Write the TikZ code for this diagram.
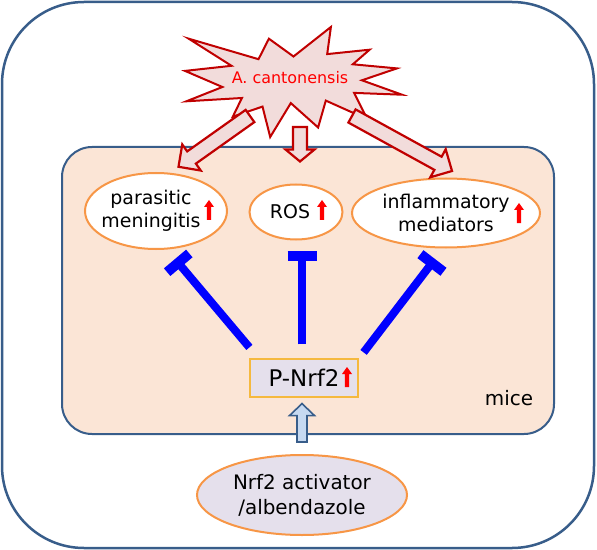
\documentclass[tikz,border=0pt]{standalone}
\usepackage{fontspec}
\setmainfont{DejaVu Sans}
\usepackage{tikz}
\usetikzlibrary{shapes.geometric,arrows.meta,positioning,calc}

\definecolor{frame}{HTML}{385D8A}
\definecolor{peach}{HTML}{FBE5D6}
\definecolor{orng}{HTML}{F79646}
\definecolor{lilac}{HTML}{E5E0EC}
\definecolor{gold}{HTML}{F5B93F}
\definecolor{darkred}{HTML}{C00000}
\definecolor{pinkfill}{HTML}{F2DCDB}
\definecolor{skyfill}{HTML}{C6D9F1}

% hollow block arrow: style, from, to, shaft half width, head half width, head length
\newcommand{\blockarrow}[6]{%
  \coordinate (ba-s) at (#2);
  \coordinate (ba-e) at (#3);
  \coordinate (ba-h) at ($(ba-e)!#6!(ba-s)$);
  \draw[#1] ($(ba-s)!#4!90:(ba-e)$) -- ($(ba-h)!#4!90:(ba-e)$)
    -- ($(ba-h)!#5!90:(ba-e)$) -- (ba-e)
    -- ($(ba-h)!#5!-90:(ba-e)$) -- ($(ba-h)!#4!-90:(ba-e)$)
    -- ($(ba-s)!#4!-90:(ba-e)$) -- cycle;
}
% move a line of node text to the left
\newcommand{\lft}[2]{\hspace*{-#1}#2\hspace*{#1}}

\begin{document}
\begin{tikzpicture}[x=1bp, y=-1bp,
  elli/.style={ellipse, draw=orng, line width=2bp, fill=white, inner sep=0pt,
               align=center, font=\fontsize{19}{23}\selectfont},
  inhib/.style={blue, line width=8bp, -{Bar[width=29bp, line width=10bp]}},
  redarr/.style={draw=darkred, fill=pinkfill, line width=2.2bp, line join=miter},
  bluearr/.style={draw=frame, fill=skyfill, line width=1.6bp, line join=miter},
  pics/redup/.style={code={
    \fill[red] (0,-10) -- (5,-3) -- (2.2,-3) -- (2.2,10) -- (-2.2,10)
      -- (-2.2,-3) -- (-5,-3) -- cycle;}}
]
\useasboundingbox (0,0) rectangle (597,550);
\draw[frame, line width=2.5bp, rounded corners=82bp] (2,2) rectangle (594,548);
\draw[frame, fill=peach, line width=2bp, rounded corners=30bp] (62,147) rectangle (554,434);

% explosion
\draw[darkred, fill=pinkfill, line width=2bp, line join=miter]
  (293.5,56.5) -- (330.9,27) -- (327.2,54.1) -- (369.6,49.7) -- (352.8,64.3)
  -- (396.9,68.4) -- (361.9,80.3) -- (402,94.7) -- (354.1,92.9) -- (367.3,119.2)
  -- (325.8,100.6) -- (318.1,127.5) -- (290.8,103.1) -- (270.2,137) -- (262.5,106.6)
  -- (232.8,116.7) -- (241.9,98) -- (186.4,101.3) -- (222.4,87) -- (185,70.9)
  -- (231.5,65.8) -- (188.7,38.7) -- (258.5,59.2) -- (268.9,38.7) -- cycle;
\node[red, font=\fontsize{16}{19}\selectfont] (ac) at (290,78) {A. cantonensis};

\node[elli, minimum width=142bp, minimum height=76bp] (pm) at (156,211)
  {\lft{5bp}{parasitic}\\\lft{5bp}{meningitis}};
\node[elli, minimum width=93bp, minimum height=55bp] (ros) at (296,212) {\lft{6bp}{ROS}};
\node[elli, minimum width=188bp, minimum height=69bp] (im) at (446,213)
  {inflammatory\\mediators};

\node[draw=gold, fill=lilac, line width=1.2bp, minimum width=108bp, minimum height=38bp,
      font=\fontsize{23}{27}\selectfont] (pn) at (304,378) {P-Nrf2};
\node[font=\fontsize{20}{24}\selectfont] (mice) at (509,398) {mice};

\node[elli, fill=lilac, minimum width=210bp, minimum height=80bp,
      font=\fontsize{20}{25}\selectfont] (na) at (302,495) {Nrf2 activator\\/albendazole};

\pic at ($(pm)+(53,-1)$) {redup};
\pic at ($(ros)+(26,-2)$) {redup};
\pic at ($(im)+(73,0)$) {redup};
\pic at ($(pn)+(43,-1)$) {redup};

\blockarrow{redarr}{$(ac)+(-40,38)$}{$(pm.60)+(1,-7)$}{7.5bp}{16bp}{16bp}
\blockarrow{redarr}{$(ac)+(10,49)$}{$(ros.north)+(4,-22)$}{7bp}{14.5bp}{12bp}
\blockarrow{redarr}{$(ac)+(62,38)$}{$(im.north)+(6,-6.5)$}{7.5bp}{16bp}{16bp}
\blockarrow{bluearr}{$(na.north)+(0,-12)$}{$(pn.south)+(-2,6)$}{5bp}{12.5bp}{12bp}

\draw[inhib] ($(pn.north west)+(0,-11)$) -- ($(pm.south)+(19,9)$);
\draw[inhib] ($(pn.north)+(-2,-14)$) -- ($(ros.south)+(6,10.5)$);
\draw[inhib] ($(pn.north east)+(5,-6)$) -- ($(im.south)+(-11,10.5)$);
\end{tikzpicture}
\end{document}
